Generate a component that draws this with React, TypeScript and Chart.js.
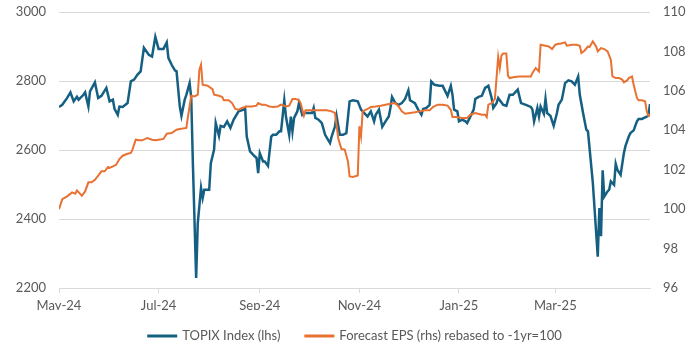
import React, { useEffect, useRef } from 'react';
import { Chart, registerables } from 'chart.js';

Chart.register(...registerables);

// x positions are calendar days after 13 May 2024
const xTickDays = [0, 61, 123, 184, 245, 304];
const xTickLabels = ['May-24', 'Jul-24', 'Sep-24', 'Nov-24', 'Jan-25', 'Mar-25'];
const xMaxDay = 362;

const seriesNames = ['TOPIX Index (lhs)', 'Forecast EPS (rhs) rebased to -1yr=100'];

const topixDays = [0, 2, 5, 7, 9, 11, 12, 15, 16, 18, 19, 22, 24, 26, 29, 31, 33, 34, 36, 37, 39, 42, 44, 46, 48, 50, 52, 55, 57, 59, 61, 64, 66, 67, 69, 71, 72, 74, 75, 77, 78, 80, 81, 82, 84, 85, 87, 88, 89, 92, 93, 95, 96, 98, 99, 101, 103, 105, 107, 110, 113, 114, 115, 117, 120, 121, 122, 123, 125, 126, 128, 130, 131, 133, 135, 136, 138, 139, 141, 142, 143, 144, 146, 147, 149, 150, 152, 155, 156, 157, 159, 161, 163, 166, 167, 169, 170, 172, 174, 176, 178, 180, 183, 185, 187, 189, 191, 193, 194, 196, 198, 200, 202, 203, 204, 206, 208, 210, 212, 214, 215, 218, 220, 222, 223, 225, 227, 228, 230, 233, 235, 238, 240, 241, 242, 244, 245, 247, 249, 250, 253, 254, 255, 257, 259, 261, 263, 265, 266, 268, 269, 271, 272, 274, 276, 278, 281, 283, 286, 289, 290, 291, 293, 294, 295, 297, 298, 299, 301, 303, 305, 306, 308, 310, 312, 314, 316, 318, 319, 321, 323, 324, 327, 330, 331, 332, 333, 334, 336, 337, 338, 340, 341, 342, 344, 346, 347, 349, 350, 352, 354, 355, 357, 360, 361, 362];
const topixValues = [2725, 2731, 2751, 2767, 2741, 2754, 2746, 2760, 2767, 2726, 2770, 2796, 2751, 2757, 2780, 2741, 2746, 2719, 2702, 2726, 2725, 2736, 2799, 2804, 2818, 2828, 2896, 2876, 2871, 2928, 2893, 2893, 2912, 2867, 2847, 2831, 2828, 2726, 2699, 2746, 2760, 2794, 2751, 2562, 2229, 2388, 2490, 2461, 2485, 2485, 2562, 2601, 2678, 2641, 2670, 2667, 2683, 2664, 2688, 2712, 2717, 2722, 2639, 2596, 2581, 2577, 2533, 2591, 2567, 2567, 2554, 2639, 2644, 2644, 2654, 2654, 2744, 2697, 2644, 2697, 2654, 2693, 2712, 2736, 2702, 2707, 2707, 2707, 2722, 2693, 2688, 2678, 2644, 2620, 2639, 2668, 2699, 2644, 2644, 2649, 2741, 2744, 2741, 2717, 2707, 2697, 2712, 2683, 2702, 2717, 2667, 2683, 2697, 2722, 2754, 2736, 2731, 2736, 2748, 2773, 2744, 2736, 2717, 2702, 2719, 2722, 2731, 2799, 2789, 2786, 2786, 2757, 2786, 2760, 2717, 2712, 2683, 2688, 2683, 2678, 2707, 2717, 2748, 2754, 2757, 2780, 2786, 2751, 2722, 2736, 2751, 2738, 2731, 2728, 2760, 2760, 2775, 2736, 2731, 2725, 2717, 2683, 2722, 2697, 2726, 2705, 2748, 2707, 2699, 2670, 2707, 2731, 2746, 2794, 2802, 2799, 2789, 2813, 2760, 2707, 2659, 2654, 2504, 2291, 2432, 2350, 2541, 2465, 2480, 2485, 2509, 2499, 2560, 2543, 2528, 2591, 2612, 2639, 2649, 2657, 2683, 2690, 2690, 2697, 2699, 2733];

const epsDays = [0, 2, 5, 8, 10, 11, 14, 16, 18, 20, 22, 24, 26, 28, 30, 31, 33, 35, 37, 39, 42, 44, 45, 47, 49, 51, 54, 57, 59, 61, 64, 66, 69, 72, 74, 78, 79, 81, 83, 85, 86, 87, 88, 91, 94, 95, 98, 100, 101, 104, 106, 108, 110, 112, 115, 118, 121, 122, 124, 126, 129, 131, 134, 136, 139, 141, 143, 145, 147, 148, 150, 151, 153, 157, 161, 164, 167, 169, 170, 171, 173, 175, 177, 178, 180, 183, 184, 185, 186, 189, 191, 194, 197, 200, 203, 206, 208, 210, 212, 215, 218, 221, 224, 227, 229, 232, 235, 238, 240, 241, 243, 247, 250, 252, 255, 259, 261, 262, 263, 265, 267, 268, 269, 270, 271, 272, 274, 275, 276, 279, 282, 289, 290, 292, 294, 295, 298, 300, 302, 304, 306, 307, 310, 311, 314, 317, 319, 320, 322, 324, 325, 327, 329, 330, 332, 334, 336, 338, 339, 341, 343, 345, 346, 348, 349, 351, 352, 354, 355, 357, 359, 360, 361, 362];
const epsValues = [100.0, 100.51, 100.65, 100.85, 100.78, 100.95, 100.68, 100.9, 101.36, 101.36, 101.49, 101.7, 101.92, 101.92, 102.14, 102.09, 102.17, 102.25, 102.54, 102.71, 102.81, 102.85, 103.02, 103.52, 103.49, 103.49, 103.61, 103.52, 103.49, 103.52, 103.56, 103.83, 103.86, 104.03, 104.07, 104.12, 104.7, 105.75, 105.72, 105.81, 107.07, 107.33, 106.31, 106.26, 106.09, 105.81, 105.75, 105.69, 105.52, 105.52, 105.38, 105.08, 105.04, 105.13, 105.21, 105.21, 105.25, 105.38, 105.3, 105.3, 105.21, 105.18, 105.21, 105.3, 105.21, 105.25, 105.59, 105.59, 105.52, 105.38, 104.74, 105.01, 105.01, 105.01, 105.01, 105.01, 104.96, 104.88, 104.28, 103.61, 103.05, 103.02, 102.42, 101.66, 101.63, 101.71, 104.2, 103.69, 104.96, 105.08, 105.18, 105.21, 105.25, 105.3, 105.35, 105.38, 105.21, 104.96, 104.84, 104.88, 104.91, 104.96, 105.01, 105.01, 105.18, 105.3, 105.3, 105.25, 105.04, 104.67, 104.67, 104.62, 104.62, 104.79, 104.88, 104.79, 104.79, 104.67, 105.3, 105.38, 105.59, 106.65, 107.72, 107.16, 107.78, 107.89, 107.89, 106.77, 106.65, 106.7, 106.73, 106.73, 106.91, 107.16, 106.99, 108.34, 108.29, 108.25, 108.12, 108.34, 108.39, 108.39, 108.46, 108.29, 108.34, 108.34, 108.29, 107.92, 108.05, 108.25, 108.22, 108.51, 108.25, 108.0, 108.17, 108.12, 108.0, 107.58, 106.73, 106.65, 106.65, 106.57, 106.43, 106.53, 106.65, 106.73, 106.31, 105.64, 105.52, 105.52, 105.47, 104.96, 104.74, 104.79];

const COLORS = ['#156082', '#E97132'];
const TEXT = '#595959';
const GRID = '#d9d9d9';
const FONT = { family: 'Lato, "Liberation Sans", sans-serif', size: 13 };

const bottomLegend = {
  id: 'bottomLegend',
  afterDraw(chart: any) {
    const ctx = chart.ctx;
    const area = chart.chartArea;
    ctx.save();
    ctx.font = `${FONT.size}px ${FONT.family}`;
    const lineW = 30;
    const gap = 5;
    const itemGap = 24;
    const items = chart.data.datasets.map((ds: any) => ({
      text: ds.label,
      color: ds.borderColor,
      w: lineW + gap + ctx.measureText(ds.label).width,
    }));
    const total = items.reduce((s: number, it: any) => s + it.w, 0) + itemGap * (items.length - 1);
    let x = (area.left + area.right) / 2 - total / 2;
    const y = chart.height - 11;
    items.forEach((it: any) => {
      ctx.strokeStyle = it.color;
      ctx.lineWidth = 3;
      ctx.beginPath();
      ctx.moveTo(x, y);
      ctx.lineTo(x + lineW, y);
      ctx.stroke();
      ctx.fillStyle = TEXT;
      ctx.textBaseline = 'middle';
      ctx.textAlign = 'left';
      ctx.fillText(it.text, x + lineW + gap, y);
      x += it.w + itemGap;
    });
    ctx.restore();
  },
};

const fitY = (width: number) => (s: any) => {
  s.width = width;
  s.paddingTop = 0;
  s.paddingBottom = 0;
};

export default function App() {
  const ref = useRef<HTMLCanvasElement | null>(null);

  useEffect(() => {
    if (!ref.current) return;
    const chart = new Chart(ref.current, {
      type: 'line',
      data: {
        datasets: [
          {
            label: seriesNames[0],
            data: topixDays.map((d, i) => ({ x: d, y: topixValues[i] })),
            borderColor: COLORS[0],
            backgroundColor: COLORS[0],
            borderWidth: 2.5,
            pointRadius: 0,
            tension: 0,
            yAxisID: 'y',
            order: 1,
          },
          {
            label: seriesNames[1],
            data: epsDays.map((d, i) => ({ x: d, y: epsValues[i] })),
            borderColor: COLORS[1],
            backgroundColor: COLORS[1],
            borderWidth: 2,
            pointRadius: 0,
            tension: 0,
            yAxisID: 'y1',
            order: 0,
          },
        ],
      },
      options: {
        responsive: false,
        animation: false,
        layout: { padding: { top: 12, bottom: 37, left: 0, right: 0 } },
        plugins: {
          legend: { display: false },
          tooltip: { enabled: false },
        },
        scales: {
          x: {
            type: 'linear',
            min: 0,
            max: xMaxDay,
            afterBuildTicks: (s: any) => {
              s.ticks = xTickDays.map((v) => ({ value: v }));
            },
            afterFit: (s: any) => {
              s.height = 22;
            },
            ticks: {
              autoSkip: false,
              maxRotation: 0,
              color: TEXT,
              font: FONT,
              padding: 5,
              callback: (_v: any, i: number) => xTickLabels[i],
            },
            grid: { drawOnChartArea: false, drawTicks: true, tickLength: 5, color: GRID },
            border: { display: true, color: GRID },
          },
          y: {
            position: 'left',
            min: 2200,
            max: 3000,
            afterFit: fitY(59),
            ticks: { stepSize: 200, color: TEXT, font: FONT, padding: 13, callback: (v: any) => String(v) },
            grid: { color: GRID, drawTicks: false },
            border: { display: false },
          },
          y1: {
            position: 'right',
            min: 96,
            max: 110,
            afterFit: fitY(50),
            ticks: { stepSize: 2, color: TEXT, font: FONT, padding: 13, callback: (v: any) => String(v) },
            grid: { display: false, drawTicks: false },
            border: { display: false },
          },
        },
      },
      plugins: [bottomLegend],
    } as any);
    return () => chart.destroy();
  }, []);

  return (
    <div style={{ position: 'fixed', left: 0, top: 0, width: 700, height: 347, background: '#fff' }}>
      <canvas ref={ref} width={700} height={347} style={{ width: 700, height: 347 }} />
    </div>
  );
}
